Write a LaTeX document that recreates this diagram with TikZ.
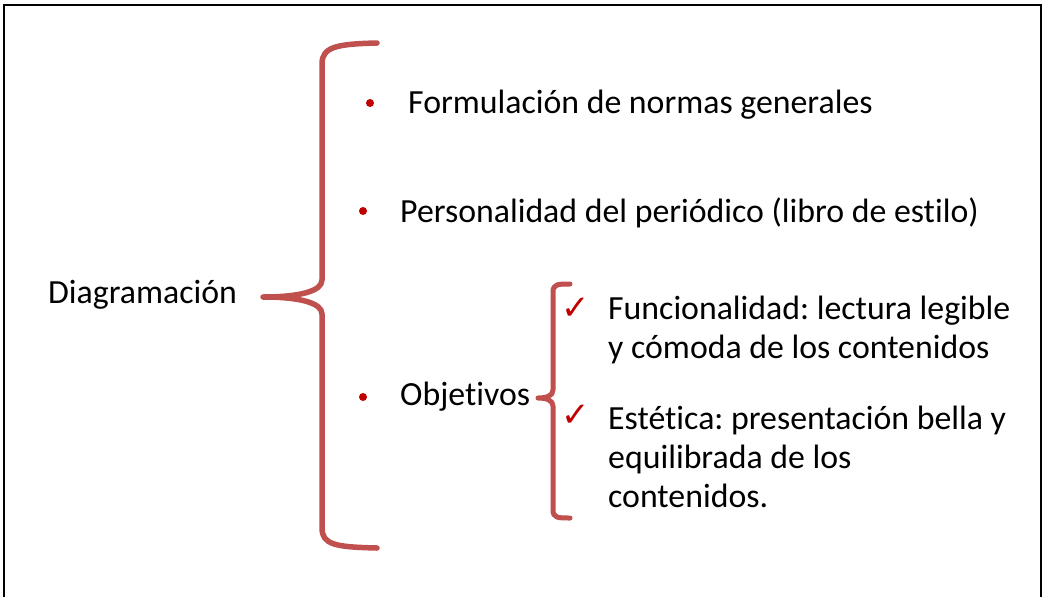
\documentclass[tikz,border=0pt]{standalone}
\usepackage{fontspec}
\setmainfont{Carlito}[Ligatures=CommonOff]
\newfontfamily\symbfont{DejaVu Sans}
\usetikzlibrary{positioning}
\definecolor{bracered}{HTML}{C0504D}
\definecolor{dotred}{HTML}{C00000}
\tikzstyle{txt}=[anchor=base west, inner sep=0pt, font=\fontsize{33.8}{39}\selectfont\frenchspacing]
\tikzstyle{dot}=[circle, fill=dotred, inner sep=0pt, minimum size=8pt]
\tikzstyle{tick}=[inner sep=0pt, text=dotred, font=\symbfont\fontsize{34}{34}\selectfont]
\tikzstyle{brace}=[line width=5.5pt, draw=bracered, line cap=round, line join=round,
  preaction={draw=black!35, opacity=.35, transform canvas={shift={(1.5pt,-2pt)}}}]

\begin{document}
\begin{tikzpicture}[x=1pt, y=-1pt]
    \useasboundingbox (0,0) rectangle (1044,597);
    \draw[line width=2.5pt] (4,597) -- (4,5) -- (1041,5) -- (1041,597);

    \node [txt] (diag) at (48,303) {Diagramación};
    \node [txt] (norm) at (408,113) {Formulación de normas generales};
    \node [txt] (pers) at (400,222) {Personalidad del periódico (libro de estilo)};
    \node [txt] (obj) at (400,405) {Objetivos};
    % multi-line nodes sit on their last line
    \node [txt, align=left] (func) at (608,358) {Funcionalidad: lectura legible\\y cómoda de los contenidos};
    \node [txt, align=left] (est) at (608,507) {Estética: presentación bella y\\equilibrada de los\\contenidos.};

    \node [dot] (b1) at (370,103) {};
    \node [dot] (b2) at (363,211) {};
    \node [dot] (b3) at (363,397) {};
    \node [tick] (t1) at (576,309) {✓};
    \node [tick] (t2) at (576,416) {✓};

    % braces
    \coordinate (bigtip) at (263,297);
    \coordinate (smalltip) at (538,398);
    \draw[brace] (377,43) .. controls (336,44) and (322,47) .. (322,64) -- (322,280)
        .. controls (322,291) and (300,297) .. (bigtip)
        .. controls (300,297) and (322,303) .. (322,314) -- (322,528)
        .. controls (322,545) and (336,547) .. (377,548);
    \draw[brace, line width=5pt] (570,284) .. controls (558,284) and (553,284) .. (553,292) -- (553,390)
        .. controls (553,396) and (546,398) .. (smalltip)
        .. controls (546,398) and (553,400) .. (553,406) -- (553,510)
        .. controls (553,518) and (558,518) .. (570,518);
\end{tikzpicture}
\end{document}
